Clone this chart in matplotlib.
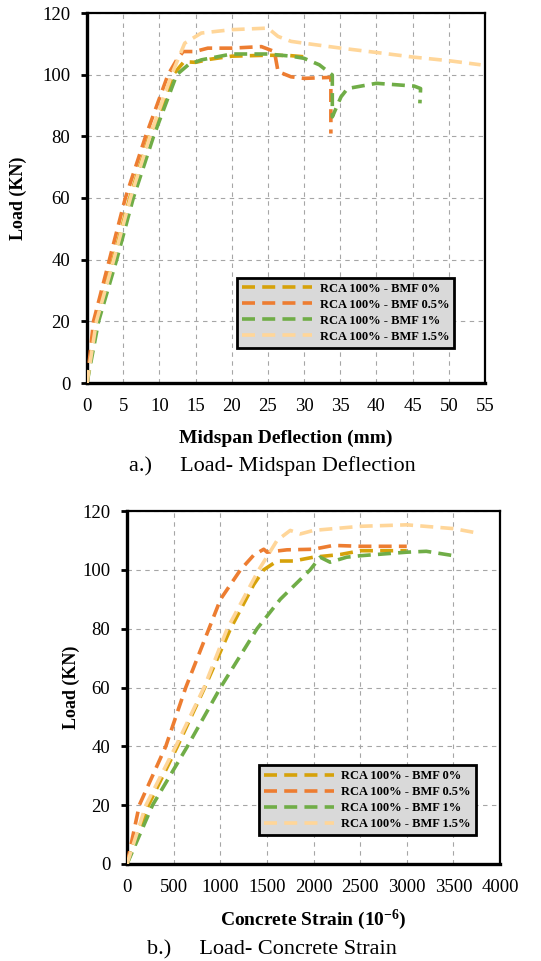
import matplotlib
matplotlib.use('Agg')
import matplotlib.pyplot as plt

plt.rcParams['font.family'] = ['Liberation Serif', 'DejaVu Serif']
plt.rcParams['mathtext.fontset'] = 'custom'
plt.rcParams['mathtext.rm'] = 'Liberation Serif:bold'
plt.rcParams['mathtext.default'] = 'rm'

labels = ['RCA 100% - BMF 0%', 'RCA 100% - BMF 0.5%', 'RCA 100% - BMF 1%', 'RCA 100% - BMF 1.5%']
colors = ['#D6A20A', '#ED7D31', '#70AD47', '#FFD699']

# a.) load - midspan deflection
defl_0 = [0, 1.2, 3.6, 5.9, 8.6, 10.5, 11.9, 13.4, 15.0, 17.0, 20.0, 25.0, 28.0, 30.0]
load_0 = [0, 20, 40, 60, 80, 90, 100, 104.2, 104.0, 105.0, 106.0, 106.3, 106.2, 105.8]

defl_05 = [0, 0.9, 3.1, 5.3, 8.1, 11.2, 12.4, 13.3, 14.9, 16.7, 20.0, 24.1, 25.9, 26.4, 28.2, 30.0, 33.5, 33.7, 33.7]
load_05 = [0, 20, 40, 60, 80, 100, 104.8, 107.5, 107.5, 108.6, 108.6, 109.1, 107.5, 101.0, 99.3, 98.8, 99.1, 99.0, 80.9]

defl_1 = [0, 1.6, 4.1, 6.4, 9.2, 10.8, 12.4, 14.0, 15.8, 20.0, 25.0, 28.2, 30.0, 32.1, 33.9, 33.9, 35.1, 36.0, 40.0, 45.2, 46.1, 46.0]
load_1 = [0, 20, 40, 60, 80, 90, 100, 103.2, 104.8, 106.7, 106.7, 106.0, 105.3, 103.2, 99.9, 86.3, 92.8, 95.5, 97.2, 96.3, 95.5, 90.7]

defl_15 = [0, 1.3, 3.7, 6.0, 8.7, 11.7, 13.5, 15.8, 17.7, 20.0, 22.0, 25.0, 26.4, 28.2, 30.0, 35.1, 40.0, 45.1, 50.1, 54.4]
load_15 = [0, 20, 40, 60, 80, 100, 110.2, 113.5, 114.0, 114.6, 114.8, 115.1, 112.4, 110.8, 110.2, 108.6, 107.2, 105.7, 104.5, 103.2]

# b.) load - concrete strain
strain_0 = [0, 230, 541, 833, 1110, 1359, 1466, 1609, 1786, 2000, 2285, 2505, 2854, 3000]
sload_0 = [0, 20, 40, 60, 80, 95, 100, 103.0, 103.0, 104.3, 105.2, 106.5, 106.5, 106.5]

strain_05 = [0, 132, 416, 630, 879, 1003, 1217, 1359, 1466, 1502, 1715, 2000, 2213, 2505, 3000]
sload_05 = [0, 20, 40, 60, 80, 90, 100, 105.0, 107.0, 106.0, 106.8, 107.0, 108.3, 108.0, 108.0]

strain_1 = [0, 274, 648, 1003, 1395, 1644, 1964, 2071, 2178, 2356, 2505, 3000, 3210, 3505]
sload_1 = [0, 20, 40, 60, 80, 90, 100, 104.3, 102.6, 104.3, 104.8, 106.0, 106.3, 104.8]

strain_15 = [0, 203, 523, 826, 1075, 1413, 1520, 1609, 1751, 1858, 2000, 2505, 3000, 3505, 3744]
sload_15 = [0, 20, 40, 60, 80, 100, 105.4, 110.0, 113.4, 112.2, 113.4, 114.8, 115.3, 114.0, 112.6]

dash = (0, (3.6, 2.0))


def style_axes(ax, xmax, xstep):
    ax.set_xlim(0, xmax)
    ax.set_ylim(0, 120)
    ax.set_xticks(range(0, xmax + 1, xstep))
    ax.set_yticks(range(0, 121, 20))
    ax.grid(True, color='#A6A6A6', linestyle=(0, (4, 4)), linewidth=0.8)
    ax.set_axisbelow(True)
    for side in ['left', 'bottom']:
        ax.spines[side].set_linewidth(2.4)
    for side in ['top', 'right']:
        ax.spines[side].set_linewidth(1.6)
    ax.tick_params(axis='x', length=0, pad=11, labelsize=13.5)
    ax.tick_params(axis='y', length=4, width=2, direction='out', pad=8, labelsize=13.5)


def add_legend(ax, anchor):
    handles, labs = ax.get_legend_handles_labels()
    idx = [labs.index(l) for l in labels]
    leg = ax.legend([handles[k] for k in idx], labels, loc='center', bbox_to_anchor=anchor,
                    prop={'weight': 'bold', 'size': 9}, handlelength=5.6,
                    labelspacing=0.32, borderpad=0.4, handletextpad=0.6,
                    fancybox=False, framealpha=1, facecolor='#D9D9D9', edgecolor='black')
    leg.get_frame().set_linewidth(2.0)


fig = plt.figure(figsize=(5.41, 9.61), dpi=100)

# top chart
ax1 = fig.add_axes([87 / 541, 1 - 383 / 961, 398 / 541, 370 / 961])
series_a = [(defl_0, load_0), (defl_05, load_05), (defl_1, load_1), (defl_15, load_15)]
for i in [0, 2, 1, 3]:
    x, y = series_a[i]
    ax1.plot(x, y, linestyle=dash, color=colors[i], linewidth=2.6, label=labels[i], zorder=3 + i)
style_axes(ax1, 55, 5)
add_legend(ax1, (0.65, 0.19))
ax1.set_ylabel('Load (KN)', fontsize=13, fontweight='bold')
ax1.yaxis.set_label_coords(-0.151, 0.5)
ax1.set_xlabel('Midspan Deflection (mm)', fontsize=14, fontweight='bold')
ax1.xaxis.set_label_coords(0.5, -0.127)
fig.text(272 / 541, 1 - 466 / 961, 'a.)     Load- Midspan Deflection', ha='center', va='center', fontsize=16)

# bottom chart
ax2 = fig.add_axes([127 / 541, 1 - 864 / 961, 373 / 541, 353 / 961])
series_b = [(strain_0, sload_0), (strain_05, sload_05), (strain_1, sload_1), (strain_15, sload_15)]
for i in [2, 0, 3, 1]:
    x, y = series_b[i]
    ax2.plot(x, y, linestyle=dash, color=colors[i], linewidth=2.6, label=labels[i], zorder=3 + i)
style_axes(ax2, 4000, 500)
add_legend(ax2, (0.644, 0.18))
ax2.set_ylabel('Load (KN)', fontsize=13, fontweight='bold')
ax2.yaxis.set_label_coords(-0.126, 0.5)
ax2.set_xlabel('Concrete Strain (10$^{-6}$)', fontsize=14, fontweight='bold')
ax2.xaxis.set_label_coords(0.5, -0.125)
fig.text(272 / 541, 1 - 950 / 961, 'b.)     Load- Concrete Strain', ha='center', va='center', fontsize=16)

fig.savefig('out.png', dpi=100)
